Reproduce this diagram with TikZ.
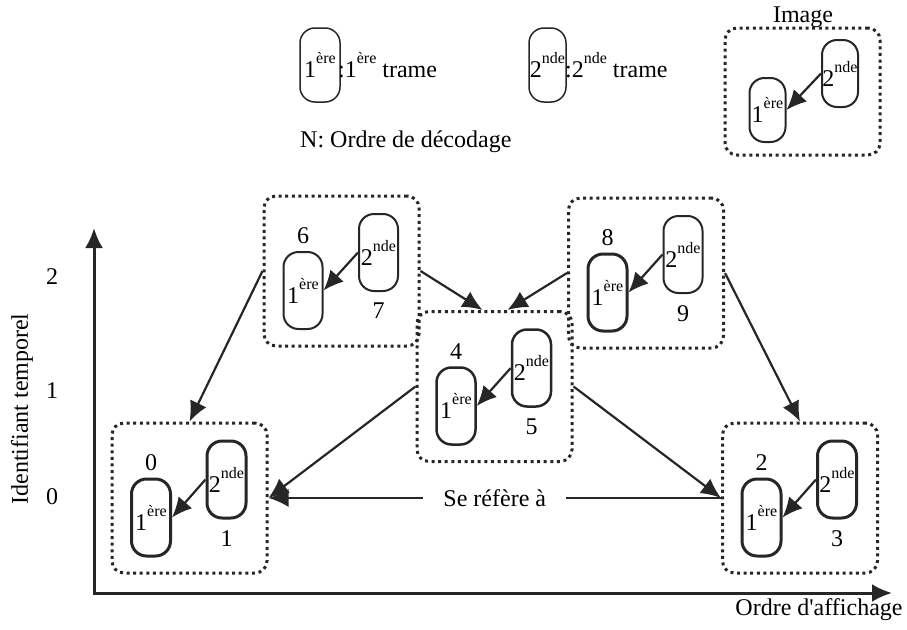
\documentclass[tikz,border=0pt]{standalone}
\usepackage{fontspec}
\setmainfont{Liberation Serif}
\usetikzlibrary{arrows.meta, positioning}
\definecolor{ink}{HTML}{262626}
\newcommand{\ere}{\raisebox{14pt}{\fontsize{16}{16}\selectfont ère}}
\newcommand{\nde}{\raisebox{14pt}{\fontsize{16}{16}\selectfont nde}}

\begin{document}
\begin{tikzpicture}[x=1pt, y=-1pt, font=\fontsize{24}{28}\selectfont,
    frame/.style={draw=ink, line width=2pt, rounded corners=15pt, minimum width=39pt, minimum height=77pt, inner sep=0pt},
    group/.style={draw=ink, line width=3pt, dash pattern=on 3pt off 3.6pt, rounded corners=12pt, minimum width=155pt, minimum height=150pt, inner sep=0pt},
    link/.style={draw=ink, line width=2.2pt, -{Latex[length=20pt,width=18pt]}},
    axis/.style={draw=ink, line width=3pt, {Latex[length=20pt,width=18pt]}-{Latex[length=20pt,width=18pt]}}]
    \useasboundingbox (0,0) rectangle (907,629);

    % legend
    \node[frame, line width=1.5pt, minimum width=40pt, minimum height=74pt] (key1) at (320,65) {1\ere};
    \node[anchor=base west, inner sep=0pt] (key1text) at (338,77) {:1\ere{} trame};
    \node[frame, line width=1.5pt, minimum width=37pt, minimum height=74pt] (key2) at (547.5,65) {2\nde};
    \node[anchor=base west, inner sep=0pt] (key2text) at (565,77) {:2\nde{} trame};
    \node[anchor=base west, inner sep=0pt] (keyorder) at (300,147) {N: Ordre de décodage};

    \node[group, minimum height=127pt] (image) at (802.5,91.5) {};
    \node[anchor=base, inner sep=0pt] (imagelabel) at (803,23) {Image};
    \node[frame, minimum width=36pt, minimum height=64pt] (imagea) at (767.5,110) {1\ere};
    \node[frame, minimum width=36pt, minimum height=67pt] (imageb) at (840,73.5) {2\nde};
    \draw[link] (imageb.west) -- (imagea.east);

    % axes
    \coordinate (origin) at (94,593);
    \coordinate (ytop) at (94,228);
    \coordinate (xend) at (892,593);
    \draw[axis] (ytop) -- (origin) -- (xend);
    \node[anchor=base] (xlabel) at (819,615) {Ordre d\textquotesingle affichage};
    \node[rotate=90] (ylabel) at (22,409) {Identifiant temporel};
    \foreach \t/\ty in {0/497, 1/391, 2/277}
        \node (tick\t) at (52,\ty) {\t};

    % images
    \foreach \g/\x/\y/\m/\n/\wa/\wb in {g0/189.5/498/0/1/3pt/3pt, g2/800/498/2/3/3pt/3pt, g4/494.5/386.5/4/5/2.5pt/2.5pt, g6/341.5/271/6/7/2pt/2pt, g8/646/273/8/9/3pt/2pt}{
        \node[group] (\g) at (\x,\y) {};
        \node[frame, line width=\wa] (\g a) at (\x-38.5,\y+19.5) {1\ere};
        \node[frame, line width=\wb] (\g b) at (\x+37,\y-18.5) {2\nde};
        \node[above=7pt of \g a, inner sep=0pt] (\g m) {\m};
        \node[below=11pt of \g b, inner sep=0pt] (\g n) {\n};
        \draw[link] (\g b.west) -- (\g a.east);
    }

    \draw[link] (g6.west) -- (g0.north);
    \draw[link] (g6.east) -- ([xshift=-12pt]g4.north);
    \draw[link] (g8.west) -- ([xshift=13pt]g4.north);
    \draw[link] (g8.east) -- (g2.north);
    \draw[link] (g4.west) -- (g0.east);
    \draw[link] (g4.east) -- (g2.west);
    \draw[link] (g2.west) -- node[fill=white, inner xsep=20pt, inner ysep=4pt] (refer) {Se réfère à} (g0.east);
\end{tikzpicture}
\end{document}
